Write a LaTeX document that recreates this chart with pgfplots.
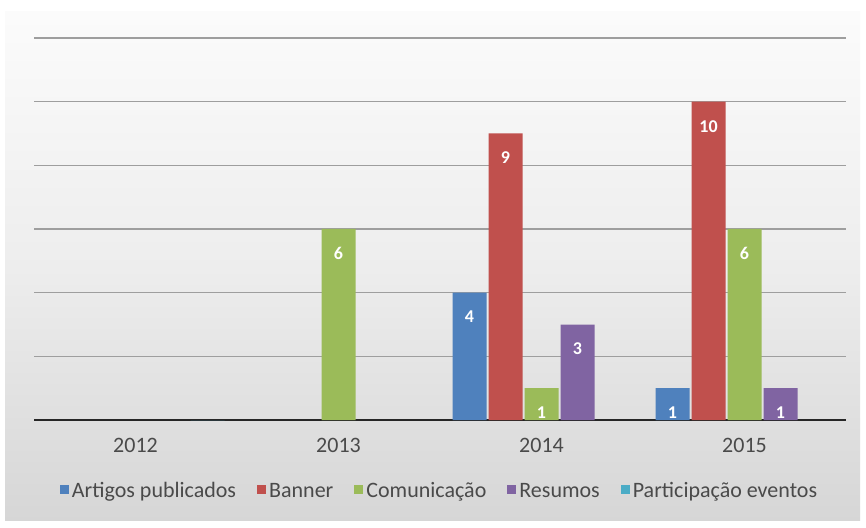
\documentclass[border=0pt]{standalone}
\usepackage{pgfplots}
\pgfplotsset{compat=1.18}
\usepackage{fontspec}
\setmainfont{Carlito}
\definecolor{cA}{HTML}{4F81BD}
\definecolor{cB}{HTML}{C0504D}
\definecolor{cC}{HTML}{9BBB59}
\definecolor{cD}{HTML}{8064A2}
\definecolor{cE}{HTML}{4BACC6}
\definecolor{txt}{HTML}{4A4A4A}
\begin{document}
\begin{tikzpicture}
\path[fill=white] (0pt,0pt) rectangle (866pt,527pt);
\shade[top color=white!97!gray, bottom color=black!16, middle color=black!7] (5pt,7pt) rectangle (860pt,515pt);
\begin{axis}[
  at={(34pt,107pt)}, anchor=south west,
  scale only axis, width=812pt, height=382pt,
  ybar=2pt, bar width=34pt,
  xmin=-0.5, xmax=3.5, ymin=0, ymax=12,
  xtick={0,1,2,3}, xticklabels={2012,2013,2014,2015},
  ytick={2,4,...,12}, yticklabels={},
  extra y ticks={0}, extra y tick labels={},
  extra y tick style={grid style={black!85, line width=2.5pt}},
  ymajorgrids, grid style={black!38, line width=1.2pt},
  major tick length=0pt,
  axis line style={draw=none},
  tick label style={font=\fontsize{22}{25}\selectfont, text=txt},
  xticklabel style={yshift=-15pt},
  /pgf/number format/assume math mode=true,
  nodes near coords,
  every node near coord/.append style={anchor=north, yshift=-15pt, text=white, font=\fontsize{18}{20}\selectfont\bfseries},
  legend style={at={(0.5,-0.191)}, anchor=center, draw=none, fill=none, legend columns=-1,
    font=\fontsize{22}{25}\selectfont, text=txt,
    nodes={text depth=4pt, text height=14pt, inner xsep=3pt},
    /tikz/every even column/.append style={column sep=18pt}},
  legend image code/.code={\fill[#1] (0pt,-1pt) rectangle (9pt,8pt);},
  clip=false,
]
\addplot[fill=cA, draw=none] coordinates {(2,4) (3,1)};
\addplot[fill=cB, draw=none] coordinates {(2,9) (3,10)};
\addplot[fill=cC, draw=none] coordinates {(1,6) (2,1) (3,6)};
\addplot[fill=cD, draw=none] coordinates {(2,3) (3,1)};
\addplot[fill=cE, draw=none, nodes near coords=\relax] coordinates {(0,0)};
\legend{Artigos publicados, Banner, Comunicação, Resumos, Participação eventos}
\end{axis}
\end{tikzpicture}
\end{document}
